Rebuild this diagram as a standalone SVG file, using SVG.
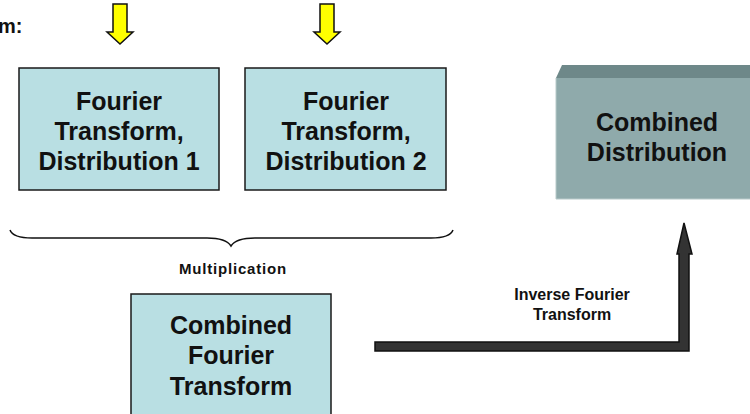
<svg xmlns="http://www.w3.org/2000/svg" width="750" height="414" viewBox="0 0 750 414">
<style>
.box{fill:#B9DFE3;stroke:#1a1a1a;stroke-width:1.5}
.big{font-family:"Liberation Sans",Arial,sans-serif;font-weight:bold;font-size:25px;fill:#111;text-anchor:middle}
.small{font-family:"Liberation Sans",Arial,sans-serif;font-weight:bold;font-size:15px;fill:#111;text-anchor:middle}
.yel{fill:#FFFF00;stroke:#111;stroke-width:1.5;stroke-linejoin:miter}
</style>
<rect width="750" height="414" fill="#fff"/>
<text x="-2" y="33" font-family="Liberation Sans, Arial, sans-serif" font-weight="bold" font-size="20" fill="#111">m:</text>
<g id="arrow-in-1"><polygon class="yel" points="113,4 127,4 127,32 133,32 120,44 107,32 113,32"/></g>
<g id="arrow-in-2"><polygon class="yel" points="320,4 334,4 334,32 340,32 327,44 314,32 320,32"/></g>
<g id="ft1">
<rect class="box" x="19" y="68" width="200" height="122"/>
<text class="big" x="119" y="110">Fourier</text>
<text class="big" x="119" y="140">Transform,</text>
<text class="big" x="119" y="170">Distribution 1</text>
</g>
<g id="ft2">
<rect class="box" x="245" y="68" width="201" height="122"/>
<text class="big" x="346" y="110">Fourier</text>
<text class="big" x="346" y="140">Transform,</text>
<text class="big" x="346" y="170">Distribution 2</text>
</g>
<g id="combined-dist">
<polygon points="556,78 562,65 750,65 750,78" fill="#6E8889"/>
<rect x="556" y="78" width="194" height="121" fill="#8FAAAB"/>
<path d="M556,78 L556,199 L750,199" fill="none" stroke="#B8CACA" stroke-width="1"/>
<text class="big" x="657" y="131">Combined</text>
<text class="big" x="657" y="161">Distribution</text>
</g>
<g id="combined-ft">
<rect class="box" x="131" y="294" width="200" height="130"/>
<text class="big" x="231" y="334">Combined</text>
<text class="big" x="231" y="364">Fourier</text>
<text class="big" x="231" y="395">Transform</text>
</g>
<g id="connectors">
<path d="M10,230 Q13,238 32,238 L207,238 Q226,238 231,246 Q236,238 255,238 L431,238 Q450,238 453,230" fill="none" stroke="#111" stroke-width="1.5"/>
<text class="small" x="233" y="274" letter-spacing="0.8">Multiplication</text>
<polygon points="375,342 679,342 679,254 677,254 684,223 692,254 689,254 689,351 375,351" fill="#333" stroke="#111" stroke-width="1.5" stroke-linejoin="miter"/>
<text x="572" y="300" font-family="Liberation Sans, Arial, sans-serif" font-weight="bold" font-size="16" fill="#111" text-anchor="middle">Inverse Fourier</text>
<text x="572" y="320" font-family="Liberation Sans, Arial, sans-serif" font-weight="bold" font-size="16" fill="#111" text-anchor="middle">Transform</text>
</g>
</svg>
